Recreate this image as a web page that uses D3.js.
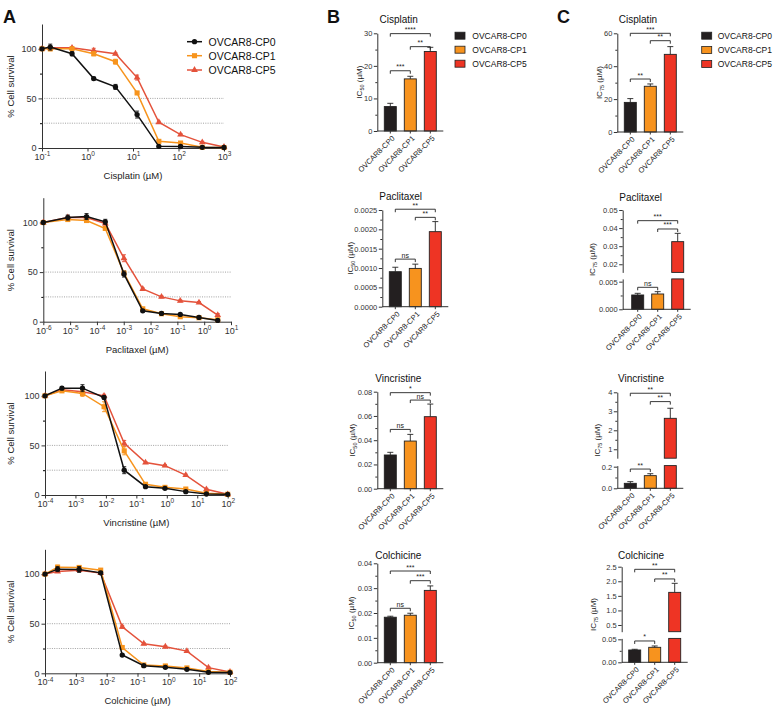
<!DOCTYPE html>
<html>
<head>
<meta charset="utf-8">
<script src="https://cdn.jsdelivr.net/npm/d3@7"></script>
<style>
  body { margin: 0; background: #fff; }
  svg { font-family: "Liberation Sans", Arial, sans-serif; }
</style>
</head>
<body>
<svg id="fig" width="773" height="712"></svg>
<script>
// ---- data ----
const groups = ["OVCAR8-CP0", "OVCAR8-CP1", "OVCAR8-CP5"];

// panel A: % cell survival per concentration (uM), rows = CP0, CP1, CP5
const cisplatinConc = [0.1, 0.152, 0.457, 1.37, 4.12, 12.3, 37, 111, 333, 1000];
const cisplatinSurv = [
  [100, 101.7, 95, 70, 61.6, 33.7, 1.7, 1.5, 0.7, 0.5],
  [100, 100, 100, 95, 87, 55.5, 6.7, 5, 0.7, 0.5],
  [100, 101, 101, 98, 95, 71, 26, 13.5, 5.7, 1]];
const cisplatinErr = [
  [0, 3, 2, 1.5, 2.5, 3.5, 1, 1, 0.5, 0.5],
  [0, 2, 1, 2, 2.5, 1.5, 1, 1, 0.5, 0.5],
  [0, 1.5, 1, 2.5, 1, 2.5, 1, 1, 1, 0.5]];

const paclitaxelConc = [1e-6, 8.2e-6, 4.1e-5, 2.05e-4, 1.02e-3, 5.12e-3, 2.56e-2, 0.128, 0.64, 3.2];
const paclitaxelSurv = [
  [100, 105, 106, 100.7, 48, 11, 8.3, 7.3, 4.3, 1.3],
  [100, 103, 102, 94, 49, 13, 8, 5, 4, 2],
  [100, 105, 105, 99, 64, 33, 25, 21, 19.3, 6.7]];
const paclitaxelErr = [
  [0, 2.5, 3, 2.5, 3, 1, 1, 1, 1, 0.5],
  [0, 2, 1.5, 2, 2, 1, 1, 1, 1, 0.5],
  [0, 1.5, 1.5, 1.5, 3.5, 1, 1, 1, 1, 1.5]];

const vincristineConc = [1e-4, 3.6e-4, 1.7e-3, 8.7e-3, 0.04, 0.2, 0.87, 4.2, 20, 100];
const vincristineSurv = [
  [100, 107.7, 107.7, 98.3, 25, 8.4, 6.7, 3.4, 1, 0.7],
  [100, 105, 102.4, 89, 44.5, 10.8, 7.7, 6, 1.7, 0.7],
  [100, 106, 104, 100, 52, 32.7, 29.6, 20, 5.7, 0.7]];
const vincristineErr = [
  [0, 1.5, 3.5, 1.5, 3.5, 1, 1, 1, 0.5, 0.5],
  [0, 1.5, 3, 5, 4, 1, 1, 1, 0.5, 0.5],
  [0, 1, 1.5, 1.5, 3, 1, 1, 1, 1, 0.5]];

const colchicineConc = [1e-4, 2.56e-4, 1.28e-3, 6.4e-3, 0.032, 0.16, 0.8, 4, 20, 100];
const colchicineSurv = [
  [100, 105, 104.7, 101.3, 18.4, 7.7, 6, 4, 1, 0.7],
  [100, 107, 106.7, 104, 26, 8.4, 7.4, 5.4, 1.7, 1],
  [100, 102.7, 104, 101, 46.8, 29.8, 26.8, 22.4, 5.7, 1.3]];
const colchicineErr = [
  [0, 2.5, 3, 1.5, 1, 1, 1, 1, 0.5, 0.5],
  [0, 2, 1.5, 1.5, 1, 1, 1, 1, 0.5, 0.5],
  [0, 1, 1, 1, 1.5, 1, 1, 1, 1, 0.5]];

// panel B: IC50 (uM)
const ic50Cisplatin = [7.5, 16.0, 24.4], ic50CisplatinErr = [1.0, 0.8, 1.3];
const ic50Paclitaxel = [0.000905, 0.00099, 0.00194], ic50PaclitaxelErr = [0.000115, 0.00011, 0.00026];
const ic50Vincristine = [0.0278, 0.0393, 0.0594], ic50VincristineErr = [0.0022, 0.0055, 0.0104];
const ic50Colchicine = [0.0183, 0.0191, 0.0291], ic50ColchicineErr = [0.0004, 0.0008, 0.0018];
// panel C: IC75 (uM)
const ic75Cisplatin = [18.0, 27.8, 47.2], ic75CisplatinErr = [2.3, 1.4, 4.7];
const ic75Paclitaxel = [0.00259, 0.00277, 0.0325], ic75PaclitaxelErr = [0.0003, 0.00042, 0.0046];
const ic75Vincristine = [0.046, 0.117, 2.63], ic75VincristineErr = [0.0155, 0.018, 0.53];
const ic75Colchicine = [0.0268, 0.0326, 1.62], ic75ColchicineErr = [0.0015, 0.0029, 0.31];
// significance labels for pairs CP0-CP1, CP1-CP5, CP0-CP5
const sigPairs = [[0, 1], [1, 2], [0, 2]];
const ic50Sig = [["***", "**", "****"], ["ns", "**", "**"], ["ns", "ns", "*"], ["ns", "***", "***"]];
const ic75Sig = [["**", "**", "***"], ["ns", "***", "***"], ["**", "**", "**"], ["*", "**", "**"]];

// ---- drawing ----
const svg = d3.select("#fig");
const lineColors = ["#111111", "#f7941d", "#e4523b"];
const barColors = ["#231f20", "#f7931e", "#ee3424"];
const axisColor = "#333";

// panel letters
[["A", 3], ["B", 327], ["C", 557]].forEach(([t, x]) =>
  svg.append("text").attr("x", x).attr("y", 23).attr("font-size", 18)
    .attr("font-weight", "bold").attr("fill", "#111").text(t));

function symbolFor(i) {
  return [d3.symbolCircle, d3.symbolSquare, d3.symbolTriangle][i];
}
function symbolSize(i) { return [22, 26, 20][i]; }

function curvePanel(p, conc, surv, err) {
  const x = d3.scaleLog().domain(p.xDomain).range([p.x0, p.x1]);
  const y = d3.scaleLinear().domain([0, 125]).range([p.y0, p.y0 - 124]);
  const g = svg.append("g");

  // dotted reference lines at 50% and 25%
  [50, 25].forEach(v => g.append("line")
    .attr("x1", p.x0).attr("x2", p.x1).attr("y1", y(v)).attr("y2", y(v))
    .attr("stroke", "#8a8a8a").attr("stroke-width", 0.8).attr("stroke-dasharray", "1,1.3"));

  // y axis
  const ya = g.append("g").attr("transform", `translate(${p.x0},0)`)
    .call(d3.axisLeft(y).tickValues([0, 50, 100]).tickSize(3.5).tickSizeOuter(0).tickPadding(2));
  g.append("g").attr("transform", `translate(${p.x0},0)`)
    .call(d3.axisLeft(y).tickValues([25, 75]).tickSize(2).tickSizeOuter(0).tickFormat(""))
    .select(".domain").remove();

  // x axis with 10^n labels
  const decades = d3.range(Math.log10(p.xDomain[0]), Math.log10(p.xDomain[1]) + 1);
  const xa = g.append("g").attr("transform", `translate(0,${p.y0})`)
    .call(d3.axisBottom(x).tickValues(decades.map(e => Math.pow(10, e))).tickSize(3.5).tickSizeOuter(0).tickPadding(2).tickFormat(""));
  xa.selectAll(".tick text").each(function (d) {
    const t = d3.select(this);
    t.text("10");
    t.append("tspan").attr("dy", -3.5).attr("font-size", 6.5).text(Math.round(Math.log10(d)));
  });

  [ya, xa].forEach(a => {
    a.attr("color", axisColor).attr("font-size", 9).attr("font-family", null);
    a.selectAll(".domain, line").attr("stroke-width", 1);
  });

  // axis titles
  g.append("text").attr("x", (p.x0 + p.x1) / 2).attr("y", p.y0 + 31)
    .attr("text-anchor", "middle").attr("font-size", 9.5).attr("fill", "#222")
    .text(p.drug + " (\u00b5M)");
  g.append("text").attr("transform", `translate(13.5,${y(62)}) rotate(-90)`)
    .attr("text-anchor", "middle").attr("font-size", 9.5).attr("fill", "#222")
    .text("% Cell survival");

  // series, CP5 first so black ends on top
  [2, 1, 0].forEach(i => {
    const s = g.append("g");
    const pts = conc.map((c, j) => ({ c, v: surv[i][j], e: err[i][j] }));
    s.append("path").datum(pts)
      .attr("d", d3.line().x(d => x(d.c)).y(d => y(d.v)))
      .attr("fill", "none").attr("stroke", lineColors[i]).attr("stroke-width", 1.5);
    const eb = s.selectAll(".eb").data(pts.filter(d => d.e > 0)).join("g")
      .attr("stroke", lineColors[i]).attr("stroke-width", 0.9);
    eb.append("line").attr("x1", d => x(d.c)).attr("x2", d => x(d.c))
      .attr("y1", d => y(d.v - d.e)).attr("y2", d => y(d.v + d.e));
    [-1, 1].forEach(sgn => eb.append("line")
      .attr("x1", d => x(d.c) - 2).attr("x2", d => x(d.c) + 2)
      .attr("y1", d => y(d.v + sgn * d.e)).attr("y2", d => y(d.v + sgn * d.e)));
    s.selectAll(".m").data(pts).join("path")
      .attr("transform", d => `translate(${x(d.c)},${y(d.v)})`)
      .attr("d", d3.symbol(symbolFor(i), symbolSize(i)))
      .attr("fill", lineColors[i]);
  });

  if (p.legend) {
    const lg = g.append("g");
    groups.forEach((name, i) => {
      const yy = p.legendY[i];
      lg.append("line").attr("x1", 187).attr("x2", 202).attr("y1", yy).attr("y2", yy)
        .attr("stroke", lineColors[i]).attr("stroke-width", 1.5);
      lg.append("path").attr("transform", `translate(194.5,${yy})`)
        .attr("d", d3.symbol(symbolFor(i), symbolSize(i))).attr("fill", lineColors[i]);
      lg.append("text").attr("x", 208.5).attr("y", yy + 3.8).attr("font-size", 10.5)
        .attr("fill", "#111").text(name);
    });
  }
}

const curveLayout = [
  { drug: "Cisplatin", x0: 42, x1: 224, y0: 148, xDomain: [0.1, 1000], legend: true, legendY: [41.7, 55.7, 70] },
  { drug: "Paclitaxel", x0: 43.3, x1: 231, y0: 321.7, xDomain: [1e-6, 10] },
  { drug: "Vincristine", x0: 45, x1: 227.7, y0: 495, xDomain: [1e-4, 100] },
  { drug: "Colchicine", x0: 45, x1: 230, y0: 673.3, xDomain: [1e-4, 100] }
];
curvePanel(curveLayout[0], cisplatinConc, cisplatinSurv, cisplatinErr);
curvePanel(curveLayout[1], paclitaxelConc, paclitaxelSurv, paclitaxelErr);
curvePanel(curveLayout[2], vincristineConc, vincristineSurv, vincristineErr);
curvePanel(curveLayout[3], colchicineConc, colchicineSurv, colchicineErr);

function barPanel(p, vals, errs, sig, ic) {
  const g = svg.append("g");
  const segs = p.segs.map(s => Object.assign({}, s, { sc: d3.scaleLinear().domain(s.domain).range(s.range) }));
  const yv = v => {
    for (const s of segs) if (v <= s.domain[1]) return s.sc(Math.max(v, s.domain[0]));
    return segs[segs.length - 1].sc(v);
  };
  const y0 = segs[0].range[0];
  const xoff = p.xoff || 0;
  const x = d3.scaleBand().domain(groups).range([p.ax + xoff, p.ax + xoff + 66])
    .paddingInner(0.4).paddingOuter(0.35);
  const cx = i => x(groups[i]) + x.bandwidth() / 2;

  // bars (split across broken axis segments)
  vals.forEach((v, i) => {
    segs.forEach((s, k) => {
      const lo = k === 0 ? 0 : s.domain[0];
      const hi = Math.min(v, s.domain[1]);
      if (hi <= lo) return;
      g.append("rect").attr("x", x(groups[i])).attr("width", x.bandwidth())
        .attr("y", s.sc(hi)).attr("height", s.sc(lo) - s.sc(hi))
        .attr("fill", barColors[i]).attr("stroke", "#222").attr("stroke-width", 0.9);
    });
    // one-sided error bar
    const top = yv(v + errs[i]);
    g.append("line").attr("x1", cx(i)).attr("x2", cx(i)).attr("y1", yv(v)).attr("y2", top)
      .attr("stroke", "#222").attr("stroke-width", 0.9);
    g.append("line").attr("x1", cx(i) - 3).attr("x2", cx(i) + 3).attr("y1", top).attr("y2", top)
      .attr("stroke", "#222").attr("stroke-width", 0.9);
  });

  // y axis segments
  segs.forEach(s => {
    const a = g.append("g").attr("transform", `translate(${p.ax},0)`)
      .call(d3.axisLeft(s.sc).tickValues(s.major).tickSize(3.5).tickSizeOuter(0).tickPadding(1.5)
        .tickFormat(d3.format(s.fmt)));
    a.attr("color", axisColor).attr("font-size", 7.5).attr("font-family", null);
    g.append("g").attr("transform", `translate(${p.ax},0)`)
      .call(d3.axisLeft(s.sc).tickValues(s.minor).tickSize(2).tickSizeOuter(0).tickFormat(""))
      .attr("color", axisColor).select(".domain").remove();
  });

  // x axis
  g.append("line").attr("x1", p.ax).attr("x2", p.ax + xoff + 66).attr("y1", y0).attr("y2", y0)
    .attr("stroke", axisColor);
  groups.forEach((name, i) => {
    g.append("line").attr("x1", cx(i)).attr("x2", cx(i)).attr("y1", y0).attr("y2", y0 + 2.5)
      .attr("stroke", axisColor);
    g.append("text").attr("transform", `translate(${cx(i) + 3},${y0 + 6}) rotate(-45)`)
      .attr("text-anchor", "end").attr("dy", "0.35em").attr("font-size", 7.5).attr("fill", "#222")
      .text(name);
  });

  // significance brackets
  sigPairs.forEach(([a, b], k) => {
    const yy = yv(p.levels[k]);
    g.append("path").attr("d", `M${cx(a)},${yy + 3}V${yy}H${cx(b)}V${yy + 3}`)
      .attr("fill", "none").attr("stroke", "#222").attr("stroke-width", 0.9);
    g.append("text").attr("x", (cx(a) + cx(b)) / 2).attr("y", yy - 1.5)
      .attr("text-anchor", "middle").attr("font-size", 7).attr("fill", "#222").text(sig[k]);
  });

  // title
  g.append("text").attr("x", p.title[0]).attr("y", p.title[1]).attr("text-anchor", "middle")
    .attr("font-size", 10).attr("fill", "#111").text(p.drug);

  // y label IC50 / IC75
  const top = segs[segs.length - 1].range[1];
  const lab = g.append("text").attr("transform", `translate(${p.labelX},${(top + y0) / 2}) rotate(-90)`)
    .attr("text-anchor", "middle").attr("font-size", 8).attr("fill", "#222");
  lab.append("tspan").text("IC");
  lab.append("tspan").attr("font-size", 5.5).attr("dy", 2).text(ic);
  lab.append("tspan").attr("dy", -2).text(" (\u00b5M)");
}

function barLegend(sx, tx, rows) {
  groups.forEach((name, i) => {
    svg.append("rect").attr("x", sx).attr("y", rows[i] - 3.5).attr("width", 10).attr("height", 7)
      .attr("fill", barColors[i]).attr("stroke", "#222").attr("stroke-width", 0.8);
    svg.append("text").attr("x", tx).attr("y", rows[i] + 3).attr("font-size", 8.5)
      .attr("fill", "#111").text(name);
  });
}

const bLayout = [
  { drug: "Cisplatin", ax: 377.3, title: [398.7, 23], labelX: 362, levels: [18.5, 25.9, 29.9],
    segs: [{ domain: [0, 30], range: [131, 33.3], major: [0, 10, 20, 30], minor: [5, 15, 25], fmt: "d" }] },
  { drug: "Paclitaxel", ax: 382.3, title: [400.7, 200], labelX: 353, levels: [0.00123, 0.00231, 0.00252],
    segs: [{ domain: [0, 0.0025], range: [306.7, 210], major: [0, 0.0005, 0.001, 0.0015, 0.002, 0.0025],
      minor: [0.00025, 0.00075, 0.00125, 0.00175, 0.00225], fmt: ".4f" }] },
  { drug: "Vincristine", ax: 377.3, title: [398.3, 382], labelX: 354.7, levels: [0.0489, 0.0731, 0.0792],
    segs: [{ domain: [0, 0.08], range: [488.7, 391.7], major: [0, 0.02, 0.04, 0.06, 0.08],
      minor: [0.01, 0.03, 0.05, 0.07], fmt: ".2f" }] },
  { drug: "Colchicine", ax: 377.3, title: [398.3, 559], labelX: 353.7, levels: [0.0219, 0.033, 0.0369],
    segs: [{ domain: [0, 0.04], range: [662.7, 563.3], major: [0, 0.01, 0.02, 0.03, 0.04],
      minor: [0.005, 0.015, 0.025, 0.035], fmt: ".2f" }] }
];
const cLayout = [
  { drug: "Cisplatin", ax: 617.3, title: [638, 23], labelX: 602.3, levels: [32.2, 55.5, 60],
    segs: [{ domain: [0, 60], range: [132, 33.3], major: [0, 20, 40, 60], minor: [10, 30, 50], fmt: "d" }] },
  { drug: "Paclitaxel", ax: 622.7, xoff: 2, title: [640.7, 201], labelX: 595.3, levels: [0.00398, 0.0395, 0.0441],
    segs: [{ domain: [0, 0.0055], range: [309.3, 278.9], major: [0, 0.005], minor: [0.0025], fmt: ".3f" },
      { domain: [0.0155, 0.05], range: [272.4, 210], major: [0.02, 0.03, 0.04, 0.05], minor: [0.025, 0.035, 0.045], fmt: ".2f" }] },
  { drug: "Vincristine", ax: 617.3, title: [641, 382], labelX: 599.7, levels: [0.178, 3.51, 3.95],
    segs: [{ domain: [0, 0.21], range: [488.3, 465.6], major: [0, 0.2], minor: [0.1], fmt: ".1f" },
      { domain: [0.53, 4], range: [458.2, 392.3], major: [1, 2, 3, 4], minor: [1.5, 2.5, 3.5], fmt: "d" }] },
  { drug: "Colchicine", ax: 621.7, title: [641, 559], labelX: 595.7, levels: [0.0464, 2.08, 2.41],
    segs: [{ domain: [0, 0.052], range: [662.3, 638.4], major: [0, 0.05], minor: [0.025], fmt: ".2f" },
      { domain: [0.27, 2.5], range: [631.7, 566.7], major: [0.5, 1, 1.5, 2, 2.5], minor: [], fmt: ".1f" }] }
];

barPanel(bLayout[0], ic50Cisplatin, ic50CisplatinErr, ic50Sig[0], "50");
barPanel(bLayout[1], ic50Paclitaxel, ic50PaclitaxelErr, ic50Sig[1], "50");
barPanel(bLayout[2], ic50Vincristine, ic50VincristineErr, ic50Sig[2], "50");
barPanel(bLayout[3], ic50Colchicine, ic50ColchicineErr, ic50Sig[3], "50");
barPanel(cLayout[0], ic75Cisplatin, ic75CisplatinErr, ic75Sig[0], "75");
barPanel(cLayout[1], ic75Paclitaxel, ic75PaclitaxelErr, ic75Sig[1], "75");
barPanel(cLayout[2], ic75Vincristine, ic75VincristineErr, ic75Sig[2], "75");
barPanel(cLayout[3], ic75Colchicine, ic75ColchicineErr, ic75Sig[3], "75");

barLegend(455, 472.3, [35.7, 49.7, 63.7]);
barLegend(701.7, 717.7, [35.7, 50, 64]);
</script>
</body>
</html>
